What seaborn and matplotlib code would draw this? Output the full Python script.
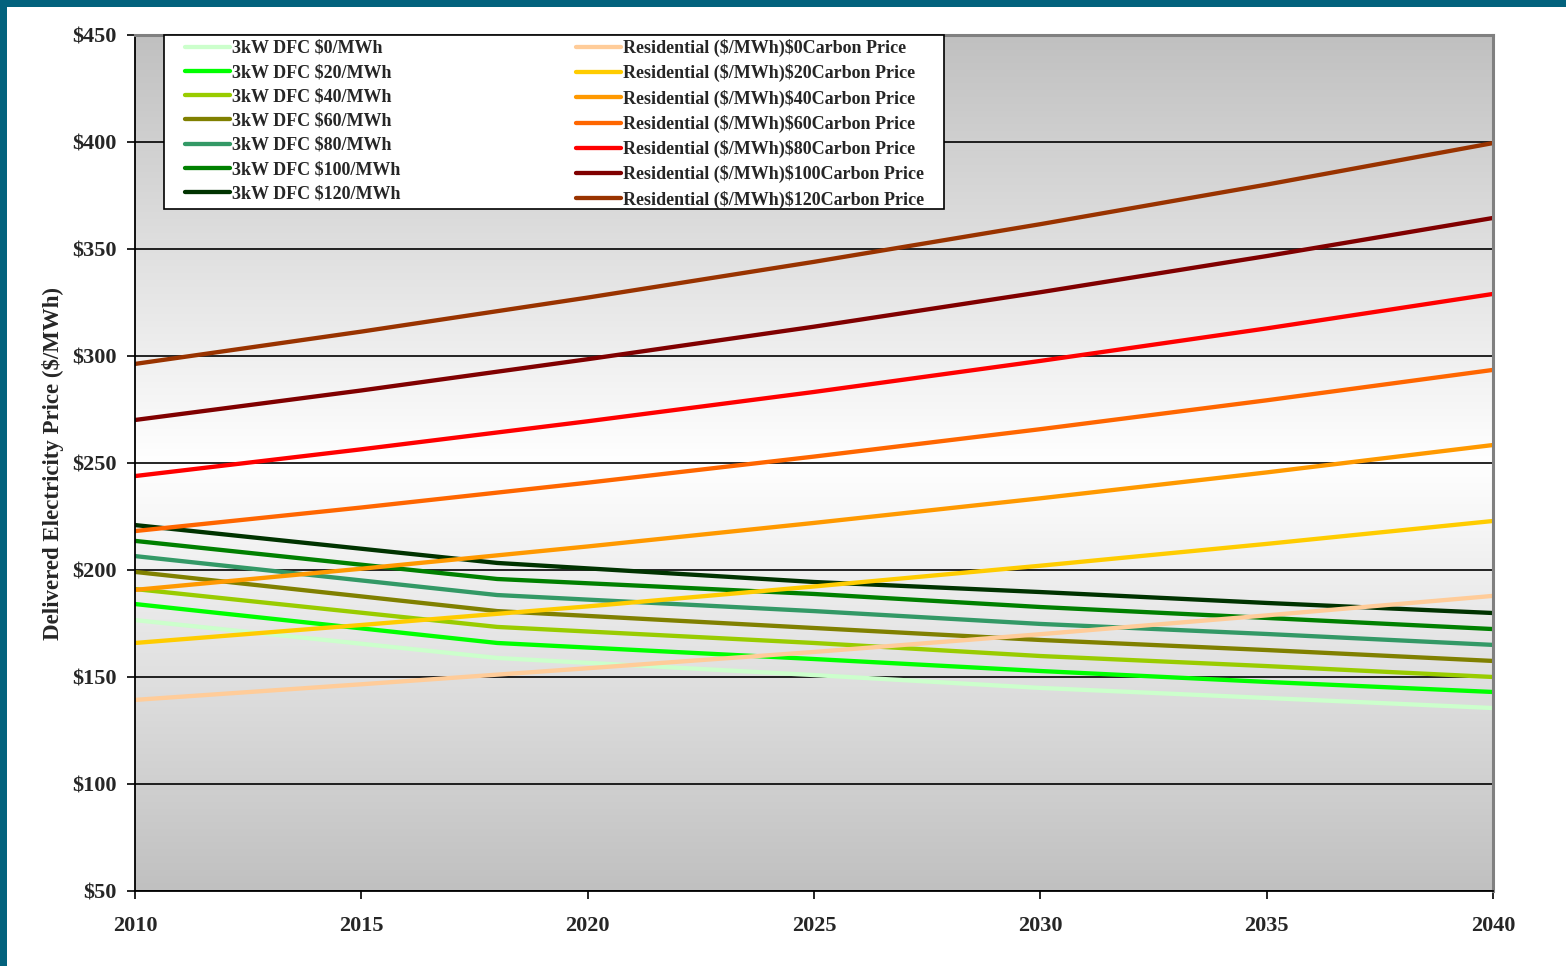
import numpy as np
import pandas as pd
import matplotlib
matplotlib.use("Agg")
import matplotlib.pyplot as plt
from matplotlib.patches import Rectangle
from matplotlib.ticker import FuncFormatter
import seaborn as sns

# ---- data ----------------------------------------------------------------
dfc_years = [2010, 2018, 2025, 2030, 2035, 2040]
dfc_0 = [176.6, 158.9, 150.9, 144.9, 140.2, 135.5]
dfc_20 = [184.1, 165.9, 158.4, 152.8, 147.7, 143.0]
dfc_40 = [191.1, 173.4, 165.9, 159.8, 155.1, 150.0]
dfc_60 = [199.1, 180.8, 172.9, 167.3, 162.6, 157.5]
dfc_80 = [206.5, 188.3, 180.8, 174.8, 170.1, 165.0]
dfc_100 = [213.6, 195.8, 188.8, 182.7, 177.6, 172.4]
dfc_120 = [221.0, 203.3, 194.4, 189.7, 184.6, 179.9]

res_years = [2010, 2015, 2020, 2025, 2030, 2035, 2040]
res_0 = [139.3, 146.6, 154.1, 161.7, 170.0, 178.8, 187.9]
res_20 = [165.9, 174.3, 183.0, 192.3, 202.0, 212.2, 222.9]
res_40 = [190.7, 200.6, 211.0, 222.0, 233.5, 245.6, 258.4]
res_60 = [218.2, 229.2, 240.8, 253.0, 265.8, 279.3, 293.5]
res_80 = [243.9, 256.4, 269.5, 283.2, 297.7, 312.9, 329.0]
res_100 = [270.1, 283.9, 298.5, 313.7, 329.8, 346.7, 364.5]
res_120 = [296.3, 311.4, 327.3, 344.0, 361.6, 380.1, 399.5]

# dollar signs are escaped so they are not read as mathtext delimiters
dfc_labels = [r"3kW DFC \$0/MWh", r"3kW DFC \$20/MWh", r"3kW DFC \$40/MWh",
              r"3kW DFC \$60/MWh", r"3kW DFC \$80/MWh", r"3kW DFC \$100/MWh",
              r"3kW DFC \$120/MWh"]
res_labels = [r"Residential (\$/MWh)\$0Carbon Price",
              r"Residential (\$/MWh)\$20Carbon Price",
              r"Residential (\$/MWh)\$40Carbon Price",
              r"Residential (\$/MWh)\$60Carbon Price",
              r"Residential (\$/MWh)\$80Carbon Price",
              r"Residential (\$/MWh)\$100Carbon Price",
              r"Residential (\$/MWh)\$120Carbon Price"]
dfc_colors = ["#CCFFCC", "#00FF00", "#99CC00", "#808000", "#339966",
              "#008000", "#003300"]
res_colors = ["#FFCC99", "#FFCC00", "#FF9900", "#FF6600", "#FF0000",
              "#800000", "#993300"]

y_ticks = [50, 100, 150, 200, 250, 300, 350, 400, 450]
x_ticks = [2010, 2015, 2020, 2025, 2030, 2035, 2040]

# ---- long-form table -----------------------------------------------------
rows = []
for lab, vals in zip(dfc_labels, [dfc_0, dfc_20, dfc_40, dfc_60, dfc_80,
                                  dfc_100, dfc_120]):
    rows += [(lab, y, v) for y, v in zip(dfc_years, vals)]
for lab, vals in zip(res_labels, [res_0, res_20, res_40, res_60, res_80,
                                  res_100, res_120]):
    rows += [(lab, y, v) for y, v in zip(res_years, vals)]
df = pd.DataFrame(rows, columns=["Series", "Year", "Price"])
palette = dict(zip(dfc_labels + res_labels, dfc_colors + res_colors))

# ---- figure ----------------------------------------------------------------
sns.set_style("white")
plt.rcParams["font.family"] = ["Liberation Serif", "DejaVu Serif"]
plt.rcParams["font.weight"] = "bold"

W, H = 1566, 966
fig = plt.figure(figsize=(W / 100, H / 100), dpi=100)
fig.patch.set_facecolor("white")
ax = fig.add_axes([135 / W, 1 - 891 / H, 1358 / W, 856 / H])

# teal frame along the top and left edges
teal = "#03627D"
fig.patches.append(Rectangle((0, 1 - 7 / H), 1, 7 / H, transform=fig.transFigure,
                             facecolor=teal, edgecolor="none", zorder=10))
fig.patches.append(Rectangle((0, 0), 7 / W, 1, transform=fig.transFigure,
                             facecolor=teal, edgecolor="none", zorder=10))

# plot area: grey-white-grey vertical gradient
t = np.linspace(0, 1, 400)
shade = 192 + 63 * (1 - np.abs(2 * t - 1))
grad = np.repeat(shade[:, None], 2, axis=1) / 255.0
ax.imshow(np.dstack([grad, grad, grad]), extent=[0, 1, 0, 1],
          transform=ax.transAxes, aspect="auto", zorder=0, interpolation="bilinear")

sns.lineplot(data=df, x="Year", y="Price", hue="Series", palette=palette,
             linewidth=3.1, ax=ax, legend=True, sort=True)

ax.set_xlim(2010, 2040)
ax.set_ylim(50, 450)
ax.set_xticks(x_ticks)
ax.set_yticks(y_ticks)
ax.yaxis.set_major_formatter(FuncFormatter(lambda v, p: f"${v:.0f}"))
ax.grid(axis="y", color="black", linewidth=1.2)
ax.set_axisbelow(True)

ax.tick_params(axis="both", direction="out", length=6, width=1.2,
               color="black", labelsize=16)
ax.tick_params(axis="y", pad=7, left=True)
ax.tick_params(axis="x", pad=12, bottom=True)
for lab in ax.get_xticklabels() + ax.get_yticklabels():
    lab.set_fontweight("bold")

for side in ["left", "bottom"]:
    ax.spines[side].set_color("black")
    ax.spines[side].set_linewidth(1.3)
for side in ["top", "right"]:
    ax.spines[side].set_color("#808080")
    ax.spines[side].set_linewidth(2.2)

ax.set_xlabel("")
ax.set_ylabel("Delivered Electricity Price ($/MWh)", fontsize=16.5,
              fontweight="bold", labelpad=6)

# legend box: white panel hanging from the top of the plot area
ax.add_patch(Rectangle((29 / 1358, 1 - 174 / 856), 780 / 1358, 174 / 856,
                       transform=ax.transAxes, facecolor="white",
                       edgecolor="black", linewidth=1.2, zorder=4.5,
                       clip_on=False))
handles, labels = ax.get_legend_handles_labels()
fs = 13
fpx = fs * 100 / 72
leg = ax.legend(handles, labels, ncol=2, loc="upper left",
                bbox_to_anchor=(50 / 1358, 1 - 4 / 856),
                borderaxespad=0, frameon=False,
                fontsize=fs, handlelength=45 / fpx,
                handletextpad=0.1, labelspacing=0.4, borderpad=0,
                columnspacing=176 / fpx)
leg.set_zorder(5)
for txt in leg.get_texts():
    txt.set_fontweight("bold")
for ln in leg.get_lines():
    ln.set_linewidth(3.1)

fig.savefig("out.png", dpi=100, facecolor="white")
